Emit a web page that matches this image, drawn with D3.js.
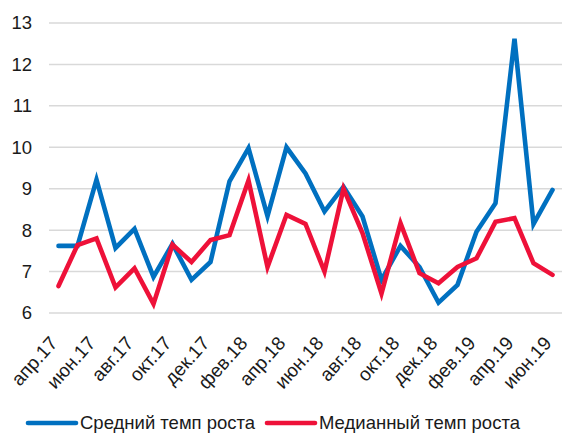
<!DOCTYPE html>
<html>
<head>
<meta charset="utf-8">
<script src="https://cdn.jsdelivr.net/npm/d3@7"></script>
<style>
  body { margin: 0; background: #fff; }
  text { font-family: "Liberation Sans", Arial, sans-serif; fill: #1a1a1a; }
</style>
</head>
<body>
<svg id="chart" width="563" height="434"></svg>
<script>
var months = ["апр.17","май.17","июн.17","июл.17","авг.17","сен.17","окт.17","ноя.17","дек.17",
  "янв.18","фев.18","мар.18","апр.18","май.18","июн.18","июл.18","авг.18","сен.18","окт.18",
  "ноя.18","дек.18","янв.19","фев.19","мар.19","апр.19","май.19","июн.19"]

var meanGrowth = [7.62, 7.62, 9.22, 7.57, 8.03, 6.87, 7.67, 6.8, 7.23,
  9.18, 9.98, 8.34, 10.0, 9.37, 8.45, 9.05, 8.33, 6.8, 7.62,
  7.11, 6.25, 6.68, 7.96, 8.65, 12.62, 8.15, 8.97]

var medianGrowth = [6.65, 7.64, 7.8, 6.62, 7.08, 6.22, 7.65, 7.23, 7.76,
  7.88, 9.2, 7.11, 8.37, 8.15, 7.0, 9.0, 7.93, 6.47, 8.17,
  6.96, 6.72, 7.11, 7.32, 8.2, 8.29, 7.2, 6.92]

var yTicks = [6, 7, 8, 9, 10, 11, 12, 13]

var seriesNames = ["Средний темп роста", "Медианный темп роста"]
var colors = ["#0070c0", "#ee1139"]

var svg = d3.select('#chart')
var plotLeft = 49, plotRight = 562, plotTop = 23, plotBottom = 313

var x = d3.scaleBand()
  .domain(months)
  .range([plotLeft, plotRight])

var y = d3.scaleLinear()
  .domain([6, 13])
  .range([plotBottom, plotTop])

// gridlines
svg.append('g')
  .selectAll('line')
  .data(yTicks)
  .enter()
  .append('line')
  .attr('x1', plotLeft)
  .attr('x2', plotRight)
  .attr('y1', (d) => y(d))
  .attr('y2', (d) => y(d))
  .attr('stroke', '#d9d9d9')
  .attr('stroke-width', 1.5)

// y labels
svg.append('g')
  .selectAll('text')
  .data(yTicks)
  .enter()
  .append('text')
  .attr('x', 32)
  .attr('y', (d) => y(d))
  .attr('dy', '0.35em')
  .attr('text-anchor', 'end')
  .attr('font-size', 18.5)
  .text((d) => d)

// x labels, every second month
svg.append('g')
  .selectAll('text')
  .data(months.filter((d, i) => i % 2 == 0))
  .enter()
  .append('text')
  .attr('transform', (d) => 'translate(' + (x(d) + x.bandwidth() / 2) + ',' + 344 + ') rotate(-48)')
  .attr('text-anchor', 'end')
  .attr('font-size', 19)
  .text((d) => d)

var line = d3.line()
  .x((d, i) => x(months[i]) + x.bandwidth() / 2)
  .y((d) => y(d))

var allSeries = [meanGrowth, medianGrowth]

svg.append('g')
  .selectAll('path')
  .data(allSeries)
  .enter()
  .append('path')
  .attr('d', line)
  .attr('fill', 'none')
  .attr('stroke', (d, i) => colors[i])
  .attr('stroke-width', 4.6)
  .attr('stroke-linejoin', 'miter')
  .attr('stroke-linecap', 'round')

// legend
var legendX = [28, 267]
var legend = svg.append('g')
  .selectAll('g')
  .data(seriesNames)
  .enter()
  .append('g')
  .attr('transform', (d, i) => 'translate(' + legendX[i] + ',423)')

legend.append('line')
  .attr('x1', 0)
  .attr('x2', 48)
  .attr('stroke', (d, i) => colors[i])
  .attr('stroke-width', 4.6)
  .attr('stroke-linecap', 'round')

legend.append('text')
  .attr('x', 52)
  .attr('dy', '0.35em')
  .attr('font-size', 18.5)
  .text((d) => d)
</script>
</body>
</html>
